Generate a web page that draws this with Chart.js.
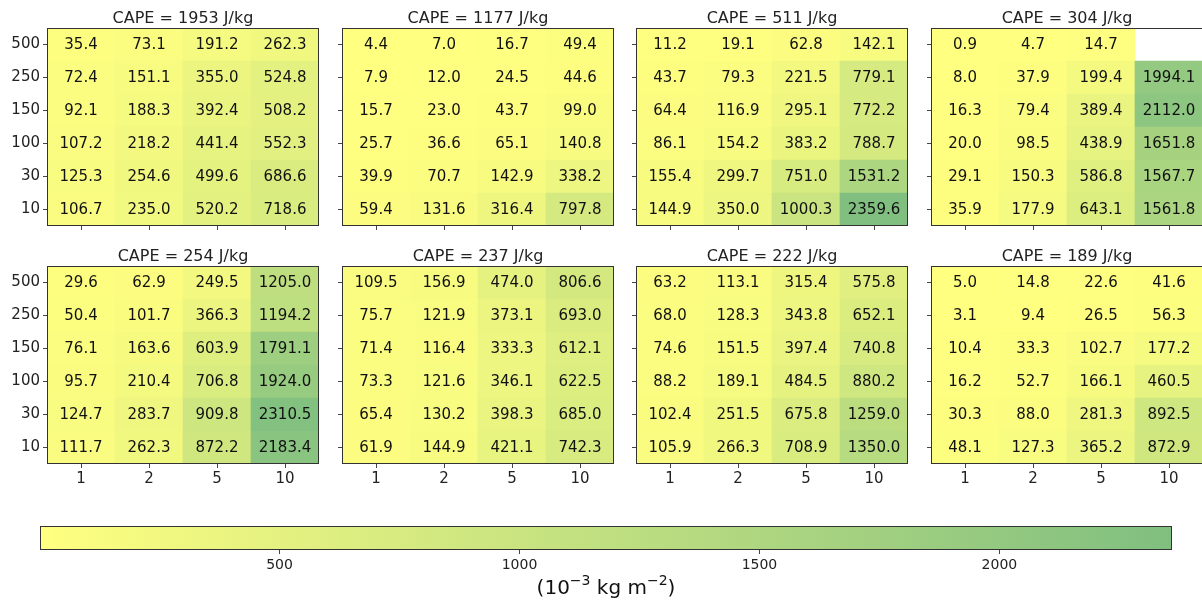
<!DOCTYPE html>
<html>
<head>
<meta charset="utf-8">
<script src="https://cdn.jsdelivr.net/npm/chart.js@4/dist/chart.umd.min.js"></script>
<style>
  body { margin: 0; background: #fff; overflow: hidden; }
  #wrap { position: relative; width: 1202px; height: 606px; overflow: hidden; }
  canvas { position: absolute; }
</style>
</head>
<body>
<div id="wrap"></div>
<script>
// rows top to bottom, columns left to right
const levels = ["500", "250", "150", "100", "30", "10"];
const factors = ["1", "2", "5", "10"];
const capeTitles = ["CAPE = 1953 J/kg", "CAPE = 1177 J/kg", "CAPE = 511 J/kg", "CAPE = 304 J/kg",
                    "CAPE = 254 J/kg", "CAPE = 237 J/kg", "CAPE = 222 J/kg", "CAPE = 189 J/kg"];

const cape1953 = [
  [35.4, 73.1, 191.2, 262.3],
  [72.4, 151.1, 355.0, 524.8],
  [92.1, 188.3, 392.4, 508.2],
  [107.2, 218.2, 441.4, 552.3],
  [125.3, 254.6, 499.6, 686.6],
  [106.7, 235.0, 520.2, 718.6]
];
const cape1177 = [
  [4.4, 7.0, 16.7, 49.4],
  [7.9, 12.0, 24.5, 44.6],
  [15.7, 23.0, 43.7, 99.0],
  [25.7, 36.6, 65.1, 140.8],
  [39.9, 70.7, 142.9, 338.2],
  [59.4, 131.6, 316.4, 797.8]
];
const cape511 = [
  [11.2, 19.1, 62.8, 142.1],
  [43.7, 79.3, 221.5, 779.1],
  [64.4, 116.9, 295.1, 772.2],
  [86.1, 154.2, 383.2, 788.7],
  [155.4, 299.7, 751.0, 1531.2],
  [144.9, 350.0, 1000.3, 2359.6]
];
const cape304 = [
  [0.9, 4.7, 14.7, null],
  [8.0, 37.9, 199.4, 1994.1],
  [16.3, 79.4, 389.4, 2112.0],
  [20.0, 98.5, 438.9, 1651.8],
  [29.1, 150.3, 586.8, 1567.7],
  [35.9, 177.9, 643.1, 1561.8]
];
const cape254 = [
  [29.6, 62.9, 249.5, 1205.0],
  [50.4, 101.7, 366.3, 1194.2],
  [76.1, 163.6, 603.9, 1791.1],
  [95.7, 210.4, 706.8, 1924.0],
  [124.7, 283.7, 909.8, 2310.5],
  [111.7, 262.3, 872.2, 2183.4]
];
const cape237 = [
  [109.5, 156.9, 474.0, 806.6],
  [75.7, 121.9, 373.1, 693.0],
  [71.4, 116.4, 333.3, 612.1],
  [73.3, 121.6, 346.1, 622.5],
  [65.4, 130.2, 398.3, 685.0],
  [61.9, 144.9, 421.1, 742.3]
];
const cape222 = [
  [63.2, 113.1, 315.4, 575.8],
  [68.0, 128.3, 343.8, 652.1],
  [74.6, 151.5, 397.4, 740.8],
  [88.2, 189.1, 484.5, 880.2],
  [102.4, 251.5, 675.8, 1259.0],
  [105.9, 266.3, 708.9, 1350.0]
];
const cape189 = [
  [5.0, 14.8, 22.6, 41.6],
  [3.1, 9.4, 26.5, 56.3],
  [10.4, 33.3, 102.7, 177.2],
  [16.2, 52.7, 166.1, 460.5],
  [30.3, 88.0, 281.3, 892.5],
  [48.1, 127.3, 365.2, 872.9]
];
const colorbarTicks = [500, 1000, 1500, 2000];

const panels = [cape1953, cape1177, cape511, cape304, cape254, cape237, cape222, cape189];

Chart.defaults.font.family = "DejaVu Sans";
Chart.defaults.animation = false;

const allVals = panels.flat(2).filter(v => v !== null);
const vmin = Math.min(...allVals);
const vmax = Math.max(...allVals);

// yellow -> green at half alpha over white
function cellColor(v) {
  const t = (v - vmin) / (vmax - vmin);
  const r = Math.round(255 - 127.5 * t);
  const g = Math.round(255 - 63.75 * t);
  return "rgb(" + r + "," + g + ",128)";
}

const framePlugin = {
  id: "frame",
  afterDraw(chart) {
    const a = chart.chartArea;
    const c = chart.ctx;
    c.save();
    c.strokeStyle = "#333";
    c.lineWidth = 1;
    c.strokeRect(Math.round(a.left) + 0.5, Math.round(a.top) + 0.5,
                 Math.round(a.right - a.left) - 1, Math.round(a.bottom - a.top) - 1);
    c.restore();
  }
};

// title centred over the plot area, like matplotlib
const panelTitlePlugin = {
  id: "panelTitle",
  afterDraw(chart, args, opts) {
    const a = chart.chartArea;
    const c = chart.ctx;
    c.save();
    c.font = "16px 'DejaVu Sans'";
    c.fillStyle = "#222";
    c.textAlign = "center";
    c.textBaseline = "alphabetic";
    c.fillText(opts.text, (a.left + a.right) / 2, a.top - 5);
    c.restore();
  }
};

const cellTextPlugin = {
  id: "cellText",
  afterDatasetsDraw(chart) {
    const c = chart.ctx;
    c.save();
    c.font = "15px 'DejaVu Sans'";
    c.fillStyle = "#111";
    c.textAlign = "center";
    c.textBaseline = "middle";
    chart.data.datasets.forEach((ds, di) => {
      chart.getDatasetMeta(di).data.forEach((el, i) => {
        const raw = ds.data[i];
        if (raw.v === null) return;
        c.fillText(raw.v.toFixed(1), el.x, (el.y + el.base) / 2 + 1);
      });
    });
    c.restore();
  }
};

// colorbar label with raised exponents
const unitLabelPlugin = {
  id: "unitLabel",
  afterDraw(chart) {
    const c = chart.ctx;
    const xs = chart.scales.x;
    const parts = [["(10", 20, 0], ["\u22123", 14, -9], [" kg m", 20, 0], ["\u22122", 14, -9], [")", 20, 0]];
    c.save();
    c.fillStyle = "#111";
    c.textBaseline = "alphabetic";
    let total = 0;
    parts.forEach(p => { c.font = p[1] + "px 'DejaVu Sans'"; total += c.measureText(p[0]).width; });
    let x = (xs.left + xs.right) / 2 - total / 2;
    const base = xs.bottom - 12;
    parts.forEach(p => {
      c.font = p[1] + "px 'DejaVu Sans'";
      c.fillText(p[0], x, base + p[2]);
      x += c.measureText(p[0]).width;
    });
    c.restore();
  }
};

const wrap = document.getElementById("wrap");

function makePanel(idx) {
  const row = Math.floor(idx / 4);
  const col = idx % 4;
  const L = 47 + col * 294.7;
  const T = row === 0 ? 28 : 265.5;
  const cv = document.createElement("canvas");
  cv.width = 322;
  cv.height = 254;
  cv.style.left = (L - 47) + "px";
  cv.style.top = (T - 28) + "px";
  wrap.appendChild(cv);

  const matrix = panels[idx];
  const datasets = [];
  for (let k = 0; k < levels.length; k++) {
    const r = levels.length - 1 - k;
    datasets.push({
      label: levels[r],
      data: factors.map((f, j) => ({ x: f, y: matrix[r][j] === null ? null : 1, v: matrix[r][j] })),
      backgroundColor: matrix[r].map(v => v === null ? "rgba(0,0,0,0)" : cellColor(v)),
      borderWidth: 0,
      barPercentage: 1,
      categoryPercentage: 1
    });
  }

  new Chart(cv, {
    type: "bar",
    data: { labels: factors, datasets: datasets },
    options: {
      responsive: false,
      devicePixelRatio: 1,
      layout: { padding: { right: 3, left: 0, top: 28, bottom: 0 } },
      plugins: {
        legend: { display: false },
        tooltip: { enabled: false },
        title: { display: false },
        panelTitle: { text: capeTitles[idx] }
      },
      scales: {
        x: {
          stacked: true,
          offset: true,
          grid: { offset: false, drawOnChartArea: false, drawTicks: true, tickLength: 4, color: "#444" },
          border: { display: false },
          ticks: { color: row === 1 ? "#222" : "rgba(0,0,0,0)", font: { size: 15 }, padding: 2, maxRotation: 0 },
          afterFit(scale) { scale.height = 28; }
        },
        y: {
          stacked: true,
          min: 0,
          max: 6,
          grid: { drawOnChartArea: false, drawTicks: true, tickLength: 4, color: "#444" },
          border: { display: false },
          afterBuildTicks(axis) {
            axis.ticks = levels.map((l, k) => ({ value: k + 0.5 }));
          },
          ticks: {
            color: col === 0 ? "#222" : "rgba(0,0,0,0)",
            font: { size: 15 },
            padding: 3,
            callback: (value) => levels[levels.length - 1 - Math.floor(value)]
          },
          afterFit(scale) { scale.width = 47; }
        }
      }
    },
    plugins: [cellTextPlugin, framePlugin, panelTitlePlugin]
  });
}

for (let i = 0; i < panels.length; i++) makePanel(i);

// colorbar
const cb = document.createElement("canvas");
cb.width = 1202;
cb.height = 106;
cb.style.left = "0px";
cb.style.top = "500px";
wrap.appendChild(cb);

new Chart(cb, {
  type: "bar",
  data: {
    labels: [""],
    datasets: [{
      data: [[vmin, vmax]],
      backgroundColor(ctx) {
        const chart = ctx.chart;
        if (!chart.chartArea) return null;
        const xs = chart.scales.x;
        const g = chart.ctx.createLinearGradient(xs.getPixelForValue(vmin), 0, xs.getPixelForValue(vmax), 0);
        g.addColorStop(0, cellColor(vmin));
        g.addColorStop(1, cellColor(vmax));
        return g;
      },
      borderWidth: 0,
      barPercentage: 1,
      categoryPercentage: 1
    }]
  },
  options: {
    indexAxis: "y",
    responsive: false,
    devicePixelRatio: 1,
    layout: { padding: { left: 40, right: 30, top: 26, bottom: 0 } },
    plugins: { legend: { display: false }, tooltip: { enabled: false } },
    scales: {
      y: { display: false },
      x: {
        type: "linear",
        min: vmin,
        max: vmax,
        afterBuildTicks(axis) { axis.ticks = colorbarTicks.map(v => ({ value: v })); },
        grid: { drawOnChartArea: false, drawTicks: true, tickLength: 4, color: "#444" },
        border: { display: false },
        ticks: { color: "#222", font: { size: 14 }, padding: 3, maxRotation: 0, callback: (v) => String(v) },
        title: { display: false },
        afterFit(scale) { scale.height = 56; }
      }
    }
  },
  plugins: [framePlugin, unitLabelPlugin]
});
</script>
</body>
</html>
